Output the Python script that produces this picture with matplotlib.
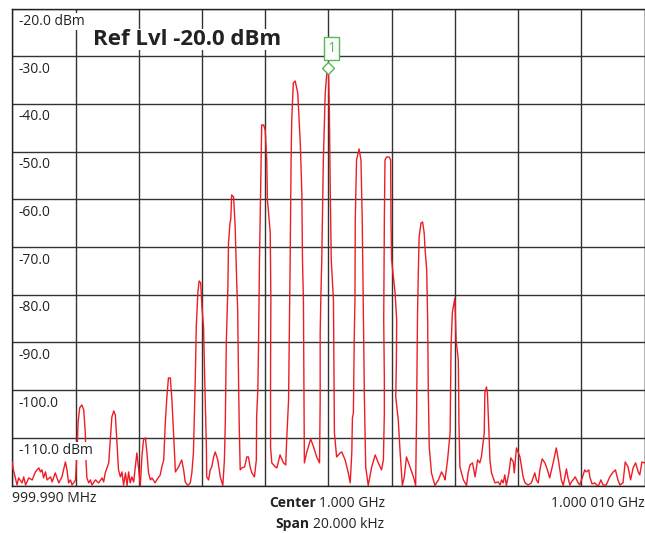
import matplotlib
matplotlib.use("Agg")
import matplotlib.pyplot as plt
from matplotlib.patches import Rectangle

plt.rcParams['font.family'] = ['Open Sans', 'DejaVu Sans']

# Analyzer settings
center_ghz = 1.000
span_khz = 20.0
ref_level = -20.0
grid_levels = [-20, -30, -40, -50, -60, -70, -80, -90, -100, -110]

# Marker 1
marker_freq = 0.0
marker_level = -32.5

# Trace: offset from center (kHz), level (dBm)
freq_khz = [
    -10.00, -9.98, -9.85, -9.80, -9.69, -9.64, -9.58, -9.48, -9.37, -9.27,
    -9.16, -9.11, -9.06, -9.01, -8.95, -8.90, -8.79, -8.74, -8.64, -8.53,
    -8.43, -8.32, -8.27, -8.22, -8.16, -8.11, -8.06, -8.00, -7.95, -7.92,
    -7.87, -7.80, -7.74, -7.69, -7.67, -7.64, -7.58, -7.53, -7.48, -7.37,
    -7.27, -7.16, -7.11, -7.06, -6.95, -6.90, -6.85, -6.79, -6.74, -6.69,
    -6.64, -6.58, -6.53, -6.48, -6.42, -6.37, -6.32, -6.27, -6.22, -6.16,
    -6.11, -6.06, -6.00, -5.95, -5.90, -5.85, -5.79, -5.74, -5.69, -5.63,
    -5.58, -5.48, -5.43, -5.32, -5.27, -5.21, -5.16, -5.11, -5.06, -5.00,
    -4.95, -4.90, -4.84, -4.74, -4.64, -4.58, -4.53, -4.45, -4.37, -4.32,
    -4.27, -4.21, -4.18, -4.13, -4.09, -4.04, -4.00, -3.95, -3.92, -3.86,
    -3.85, -3.79, -3.74, -3.69, -3.63, -3.58, -3.50, -3.42, -3.34, -3.29,
    -3.26, -3.23, -3.18, -3.16, -3.13, -3.11, -3.09, -3.06, -3.00, -2.95,
    -2.92, -2.90, -2.87, -2.84, -2.82, -2.79, -2.74, -2.65, -2.58, -2.53,
    -2.47, -2.42, -2.34, -2.28, -2.27, -2.23, -2.21, -2.18, -2.13, -2.11,
    -2.05, -2.00, -1.95, -1.93, -1.90, -1.84, -1.82, -1.83, -1.83, -1.79,
    -1.68, -1.63, -1.53, -1.42, -1.35, -1.32, -1.26, -1.24, -1.21, -1.18,
    -1.16, -1.11, -1.05, -0.97, -0.89, -0.84, -0.82, -0.79, -0.77, -0.76,
    -0.69, -0.56, -0.47, -0.37, -0.28, -0.27, -0.26, -0.26, -0.24, -0.21,
    -0.16, -0.10, -0.05, 0.00, 0.03, 0.06, 0.09, 0.16, 0.19, 0.26,
    0.37, 0.42, 0.53, 0.63, 0.69, 0.74, 0.76, 0.79, 0.82, 0.84,
    0.85, 0.89, 0.97, 1.03, 1.07, 1.11, 1.14, 1.18, 1.26, 1.37,
    1.48, 1.58, 1.68, 1.74, 1.77, 1.77, 1.75, 1.77, 1.79, 1.84,
    1.92, 1.97, 1.98, 2.00, 2.11, 2.16, 2.15, 2.13, 2.21, 2.27,
    2.34, 2.40, 2.47, 2.58, 2.69, 2.76, 2.79, 2.82, 2.84, 2.87,
    2.93, 2.98, 3.03, 3.06, 3.11, 3.14, 3.16, 3.19, 3.26, 3.37,
    3.48, 3.58, 3.66, 3.69, 3.77, 3.85, 3.88, 3.92, 4.00, 4.04,
    4.11, 4.13, 4.16, 4.27, 4.37, 4.42, 4.48, 4.56, 4.64, 4.72,
    4.79, 4.84, 4.93, 4.95, 5.00, 5.03, 5.08, 5.11, 5.16, 5.27,
    5.37, 5.43, 5.48, 5.53, 5.58, 5.63, 5.71, 5.77, 5.85, 5.88,
    5.95, 6.00, 6.06, 6.11, 6.16, 6.22, 6.32, 6.42, 6.53, 6.58,
    6.64, 6.69, 6.76, 6.85, 6.93, 7.00, 7.11, 7.21, 7.29, 7.37,
    7.43, 7.53, 7.58, 7.64, 7.69, 7.81, 7.90, 7.95, 8.03, 8.11,
    8.16, 8.24, 8.27, 8.34, 8.43, 8.48, 8.55, 8.62, 8.69, 8.79,
    8.90, 9.01, 9.08, 9.16, 9.22, 9.32, 9.39, 9.48, 9.56, 9.64,
    9.72, 9.80, 9.85, 9.92, 10.00,
]
level_dbm = [
    -115.06, -116.31, -119.90, -118.41, -119.46, -118.20, -119.90, -118.41, -118.83, -117.15,
    -116.31, -117.15, -116.73, -118.41, -117.15, -118.83, -118.20, -119.25, -117.36, -119.46,
    -118.20, -115.06, -116.73, -119.46, -118.83, -119.90, -119.46, -118.83, -112.54, -106.88,
    -103.74, -103.11, -104.16, -108.98, -114.64, -118.41, -119.46, -118.83, -119.90, -118.83,
    -119.46, -118.41, -119.25, -117.36, -115.26, -110.44, -105.62, -104.37, -105.21, -111.07,
    -116.73, -118.20, -117.15, -119.90, -117.36, -120.00, -117.15, -119.46, -118.20, -119.25,
    -116.10, -113.17, -116.73, -120.00, -114.01, -110.44, -110.02, -113.17, -117.36, -118.83,
    -118.41, -119.46, -118.83, -117.78, -116.10, -114.64, -106.88, -101.43, -97.45, -97.45,
    -102.06, -108.98, -117.15, -116.10, -114.64, -116.73, -119.25, -120.00, -119.46, -117.36,
    -113.17, -97.24, -86.76, -79.63, -77.12, -77.54, -82.57, -86.76, -95.77, -111.91,
    -118.20, -118.83, -116.73, -116.10, -114.01, -112.96, -114.64, -118.20, -120.00, -114.64,
    -106.25, -90.11, -78.38, -69.15, -66.43, -64.75, -64.33, -59.09, -59.51, -65.59,
    -72.72, -77.54, -83.20, -99.34, -107.72, -116.73, -116.31, -116.10, -114.01, -114.01,
    -116.31, -117.36, -118.20, -114.64, -105.62, -99.34, -90.11, -72.72, -51.76, -44.42,
    -44.42, -45.47, -51.76, -60.14, -62.24, -67.06, -81.10, -95.14, -111.91, -115.26,
    -116.10, -116.31, -113.59, -115.26, -115.68, -110.44, -102.06, -90.11, -72.72, -51.76,
    -43.37, -35.62, -35.20, -37.71, -48.19, -58.67, -72.72, -81.10, -102.06, -115.26,
    -113.17, -110.23, -111.91, -114.01, -115.26, -108.98, -102.06, -88.02, -81.10, -72.72,
    -51.76, -37.71, -33.52, -32.50, -41.28, -58.67, -72.72, -81.10, -108.98, -114.01,
    -113.17, -112.96, -114.64, -117.36, -119.46, -113.17, -105.83, -104.79, -88.02, -81.10,
    -64.33, -51.76, -49.45, -51.76, -64.33, -85.29, -102.06, -116.10, -120.00, -116.10,
    -113.59, -115.26, -116.73, -114.64, -104.79, -97.87, -85.29, -64.33, -51.76, -51.13,
    -51.13, -51.76, -64.33, -72.72, -79.63, -85.29, -94.30, -101.43, -106.25, -113.17,
    -120.00, -118.20, -114.01, -116.10, -118.20, -120.00, -104.79, -83.82, -76.91, -67.90,
    -64.96, -64.75, -67.06, -70.62, -74.81, -85.29, -99.96, -111.91, -117.36, -120.00,
    -118.83, -117.15, -118.20, -118.83, -114.64, -108.98, -90.95, -83.82, -80.68, -89.48,
    -93.68, -106.88, -116.10, -118.83, -120.00, -117.36, -115.68, -115.26, -118.20, -114.64,
    -115.26, -114.01, -108.98, -100.59, -99.34, -100.59, -108.98, -114.64, -117.36, -119.46,
    -119.25, -119.90, -118.83, -119.46, -117.78, -120.00, -117.36, -114.22, -115.06, -117.36,
    -112.12, -112.96, -114.01, -116.10, -118.20, -119.46, -119.90, -119.46, -117.36, -118.83,
    -119.46, -116.73, -114.43, -115.26, -116.73, -118.41, -115.26, -112.12, -115.26, -118.83,
    -120.00, -116.52, -118.41, -119.90, -119.25, -118.20, -119.46, -119.90, -118.41, -116.73,
    -117.15, -116.73, -118.20, -119.67, -119.46, -119.90, -120.00, -118.83, -119.90, -119.90,
    -118.20, -117.15, -116.73, -118.83, -119.90, -119.46, -115.06, -116.10, -118.83, -116.31,
    -115.26, -117.15, -117.78, -115.06, -115.26,
]

W, H = 645, 533
GREEN = '#55b855'
TXT = '#222222'

fig = plt.figure(figsize=(W / 100, H / 100), dpi=100)
ax = fig.add_axes([12.3 / W, 1 - 485.5 / H, (644.5 - 12.3) / W, (485.5 - 8.5) / H])

ax.plot(freq_khz, level_dbm, color='#ee1c25', lw=1.0, zorder=4)

ax.set_xlim(-span_khz / 2, span_khz / 2)
ax.set_ylim(ref_level - 100, ref_level)
ax.set_xticks([-10, -8, -6, -4, -2, 0, 2, 4, 6, 8, 10])
ax.set_yticks(grid_levels + [ref_level - 100])
ax.grid(True, color='#333333', lw=1.0)
ax.tick_params(length=0, labelbottom=False, labelleft=False)
for s in ax.spines.values():
    s.set_color('#222222')
    s.set_linewidth(1.0)

# level labels under each grid line
for lv in grid_levels:
    txt = f"{lv:.1f}"
    if lv == grid_levels[0] or lv == grid_levels[-1]:
        txt += " dBm"
    ax.annotate(txt, xy=(0, lv), xycoords=('axes fraction', 'data'),
                xytext=(4.8, -11.9), textcoords='offset points',
                ha='left', va='baseline', fontsize=10, color=TXT, zorder=5,
                bbox=dict(fc='white', ec='none', pad=1))

ax.annotate(f"Ref Lvl {ref_level:.1f} dBm", xy=(0, 1), xycoords='axes fraction',
            xytext=(58.1, -26.3), textcoords='offset points',
            ha='left', va='baseline', fontsize=16, fontweight='bold', color=TXT,
            zorder=5, bbox=dict(fc='white', ec='none', pad=0))

# marker 1
ax.plot([marker_freq], [marker_level], marker='D', ms=6.5, mfc='white',
        mec=GREEN, mew=1.0, zorder=6)
ax.add_patch(Rectangle((marker_freq - 0.13, marker_level + 1.7), 0.47, 4.8,
                       fc='white', ec=GREEN, lw=1.0, zorder=6))
ax.text(marker_freq + 0.105, marker_level + 4.1, "1", color=GREEN, fontsize=10.5,
        ha='center', va='center', zorder=7)


def px(x, y):
    return x / W, 1 - y / H


fig.text(*px(12, 502), "999.990 MHz", ha='left', va='baseline', fontsize=10, color=TXT)
fig.text(*px(316, 507), "Center", ha='right', va='baseline', fontsize=10,
         fontweight='bold', color=TXT)
fig.text(*px(319, 507), f"{center_ghz:.3f} GHz", ha='left', va='baseline',
         fontsize=10, color=TXT)
fig.text(*px(309, 528), "Span", ha='right', va='baseline', fontsize=10,
         fontweight='bold', color=TXT)
fig.text(*px(313, 528), f"{span_khz:.3f} kHz", ha='left', va='baseline',
         fontsize=10, color=TXT)
fig.text(*px(645, 507), "1.000 010 GHz", ha='right', va='baseline', fontsize=10,
         color=TXT)

fig.savefig('out.png', dpi=100)
